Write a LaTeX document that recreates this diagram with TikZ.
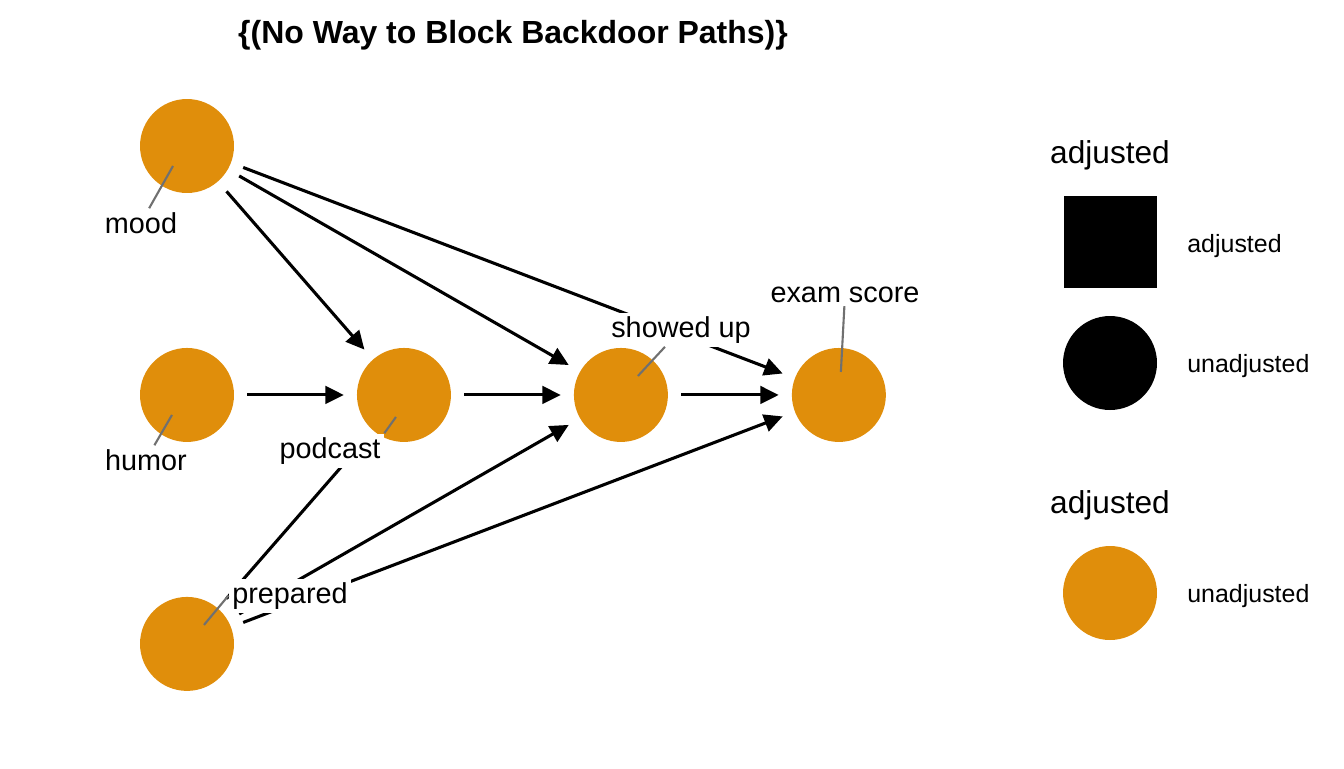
\documentclass[tikz,border=0pt]{standalone}
\usepackage{fontspec}
\setmainfont{Liberation Sans}
\usetikzlibrary{arrows.meta, positioning}

\definecolor{dagorange}{RGB}{224,142,11}
\definecolor{repelgray}{RGB}{112,112,112}

\tikzset{
  dagnode/.style={circle, fill=dagorange, minimum size=1.88cm, inner sep=0pt, outer sep=0pt},
  causal/.style={draw=black, line width=1.75pt, -{Triangle[length=10.5pt,width=10pt]}, shorten <=7.5pt, shorten >=7.5pt},
  varlabel/.style={fill=white, inner sep=2pt, anchor=base, font=\fontsize{16.4}{18}\selectfont},
  repel/.style={draw=repelgray, line width=1.2pt},
  legendtitle/.style={anchor=base, inner sep=0pt, font=\fontsize{18}{20}\selectfont},
  legendtext/.style={anchor=base west, inner sep=0pt, font=\fontsize{14.2}{16}\selectfont},
}

\begin{document}
\begin{tikzpicture}[x=0.02cm, y=-0.02cm]

        \useasboundingbox (0,0) rectangle (1344,768);

        % title
        \node[anchor=base, font=\bfseries\fontsize{18.2}{20}\selectfont] (title) at (513,43) {\{(No Way to Block Backdoor Paths)\}};

        % variables
        \node[dagnode] (mood) at (187,146) {};
        \node[dagnode] (humor) [below = 3.1cm of mood] {};
        \node[dagnode] (prepared) [below = 3.1cm of humor] {};
        \node[dagnode] (podcast) [right = 2.46cm of humor] {};
        \node[dagnode] (showed_up) [right = 2.46cm of podcast] {};
        \node[dagnode] (exam_score) [right = 2.48cm of showed_up] {};

        % paths
        \path(mood) edge[causal] (podcast) edge[causal] (showed_up) edge[causal] (exam_score);
        \path(humor) edge[causal] (podcast);
        \path(podcast) edge[causal] (showed_up);
        \path(showed_up) edge[causal] (exam_score);
        \path(prepared) edge[causal] (podcast) edge[causal] (showed_up) edge[causal] (exam_score);

        % labels
        \node[varlabel] (mood_lbl) at (141,233) {mood};
        \node[varlabel] (humor_lbl) at (146,470) {humor};
        \node[varlabel] (podcast_lbl) at (330,458) {podcast};
        \node[varlabel] (prepared_lbl) at (290,603) {prepared};
        \node[varlabel] (showed_up_lbl) at (681,337) {showed up};
        \node[varlabel] (exam_score_lbl) at (845,302) {exam score};

        % label segments
        \coordinate (mood_pt) at ([shift={(-14,20)}]mood.center);
        \coordinate (humor_pt) at ([shift={(-15,20)}]humor.center);
        \coordinate (podcast_pt) at ([shift={(-8,22)}]podcast.center);
        \coordinate (prepared_pt) at ([shift={(17,-19)}]prepared.center);
        \coordinate (showed_up_pt) at ([shift={(17,-19)}]showed_up.center);
        \coordinate (exam_score_pt) at ([shift={(2,-23)}]exam_score.center);
        \draw[repel] (mood_pt) -- (mood_lbl);
        \draw[repel] (humor_pt) -- (humor_lbl);
        \draw[repel] (podcast_pt) -- (podcast_lbl.north east);
        \draw[repel] (prepared_pt) -- (prepared_lbl.west);
        \draw[repel] (showed_up_pt) -- (showed_up_lbl);
        \draw[repel] (exam_score_pt) -- (exam_score_lbl);

        % legend
        \node[legendtitle] (legend_title_1) at (1110,163) {adjusted};
        \node[fill=black, minimum size=1.86cm, inner sep=0pt] (legend_square) at (1110,242) {};
        \node[legendtext] (legend_square_txt) at (1187,252) {adjusted};
        \node[circle, fill=black, minimum size=1.88cm, inner sep=0pt] (legend_circle) at (1110,363) {};
        \node[legendtext] (legend_circle_txt) at (1187,372) {unadjusted};

        \node[legendtitle] (legend_title_2) at (1110,513) {adjusted};
        \node[dagnode] (legend_orange) at (1110,593) {};
        \node[legendtext] (legend_orange_txt) at (1187,602) {unadjusted};

    \end{tikzpicture}
\end{document}
